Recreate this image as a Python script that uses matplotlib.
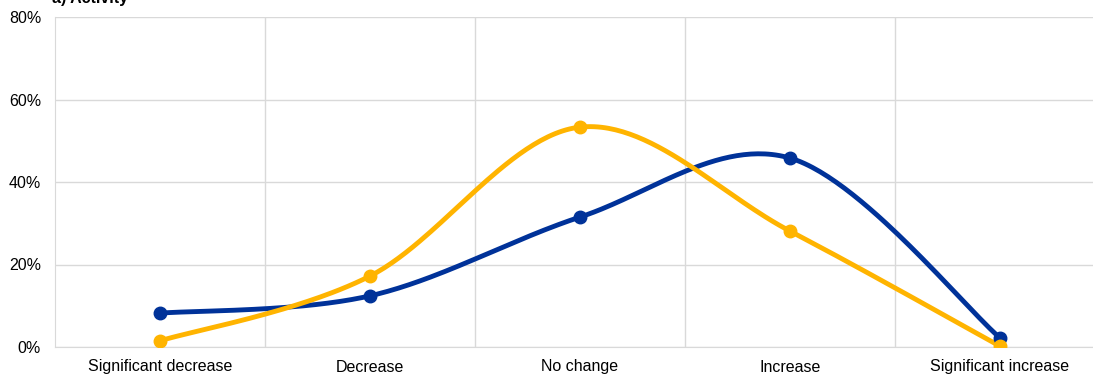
import numpy as np
import matplotlib
matplotlib.use("Agg")
import matplotlib.pyplot as plt
from matplotlib.ticker import FuncFormatter

categories = ["Significant decrease", "Decrease", "No change", "Increase", "Significant increase"]
series_blue = [8.2, 12.4, 31.5, 45.8, 2.2]
series_yellow = [1.5, 17.2, 53.3, 28.1, 0.2]
y_ticks = [0, 20, 40, 60, 80]
title = "a) Activity"

BLUE = "#003299"
YELLOW = "#ffb400"
GRID = "#d9d9d9"

plt.rcParams["font.family"] = ["Liberation Sans", "DejaVu Sans"]


def smooth(xs, ys, n=60):
    """Cubic Bezier smoothing through every point (Catmull-Rom style tangents)."""
    pts = np.column_stack([xs, ys]).astype(float)
    padded = np.vstack([pts[0], pts, pts[-1]])
    out = []
    t = np.linspace(0, 1, n)[:, None]
    for i in range(len(pts) - 1):
        p0, p1 = padded[i + 1], padded[i + 2]
        c1 = p0 + (padded[i + 2] - padded[i]) / 6.0
        c2 = p1 - (padded[i + 3] - padded[i + 1]) / 6.0
        seg = ((1 - t) ** 3) * p0 + 3 * ((1 - t) ** 2) * t * c1 + 3 * (1 - t) * t ** 2 * c2 + t ** 3 * p1
        out.append(seg if i == 0 else seg[1:])
    curve = np.vstack(out)
    return curve[:, 0], curve[:, 1]


W, H = 1093, 374
fig = plt.figure(figsize=(W / 100, H / 100), dpi=100)
ax = fig.add_axes([55 / W, 27 / H, 1050 / W, 330 / H])

x = np.arange(len(categories))
for vals, col in [(series_blue, BLUE), (series_yellow, YELLOW)]:
    sx, sy = smooth(x, vals)
    ax.plot(sx, sy, color=col, lw=3.5, solid_capstyle="round", zorder=3)
    ax.plot(x, vals, "o", color=col, ms=9, zorder=4)

ax.set_xlim(-0.5, len(categories) - 0.5)
ax.set_ylim(0, 80)
ax.set_yticks(y_ticks)
ax.yaxis.set_major_formatter(FuncFormatter(lambda v, p: f"{v:.0f}%"))
ax.set_xticks(x)
ax.set_xticklabels(categories)
ax.set_xticks(np.arange(len(categories)) + 0.5, minor=True)

ax.grid(axis="y", which="major", color=GRID, lw=1)
ax.grid(axis="x", which="minor", color=GRID, lw=1)
ax.set_axisbelow(True)
for s in ["top", "right"]:
    ax.spines[s].set_visible(False)
ax.spines["left"].set_color(GRID)
ax.spines["bottom"].set_color(GRID)
ax.tick_params(axis="both", which="both", length=0, labelsize=11.5, colors="black")
ax.tick_params(axis="y", pad=10)
ax.tick_params(axis="x", pad=9)

fig.text(52 / W, 1 - 3.0 / H, title, fontsize=11.5, fontweight="bold", ha="left", va="baseline")

fig.savefig("out.png", dpi=100)
